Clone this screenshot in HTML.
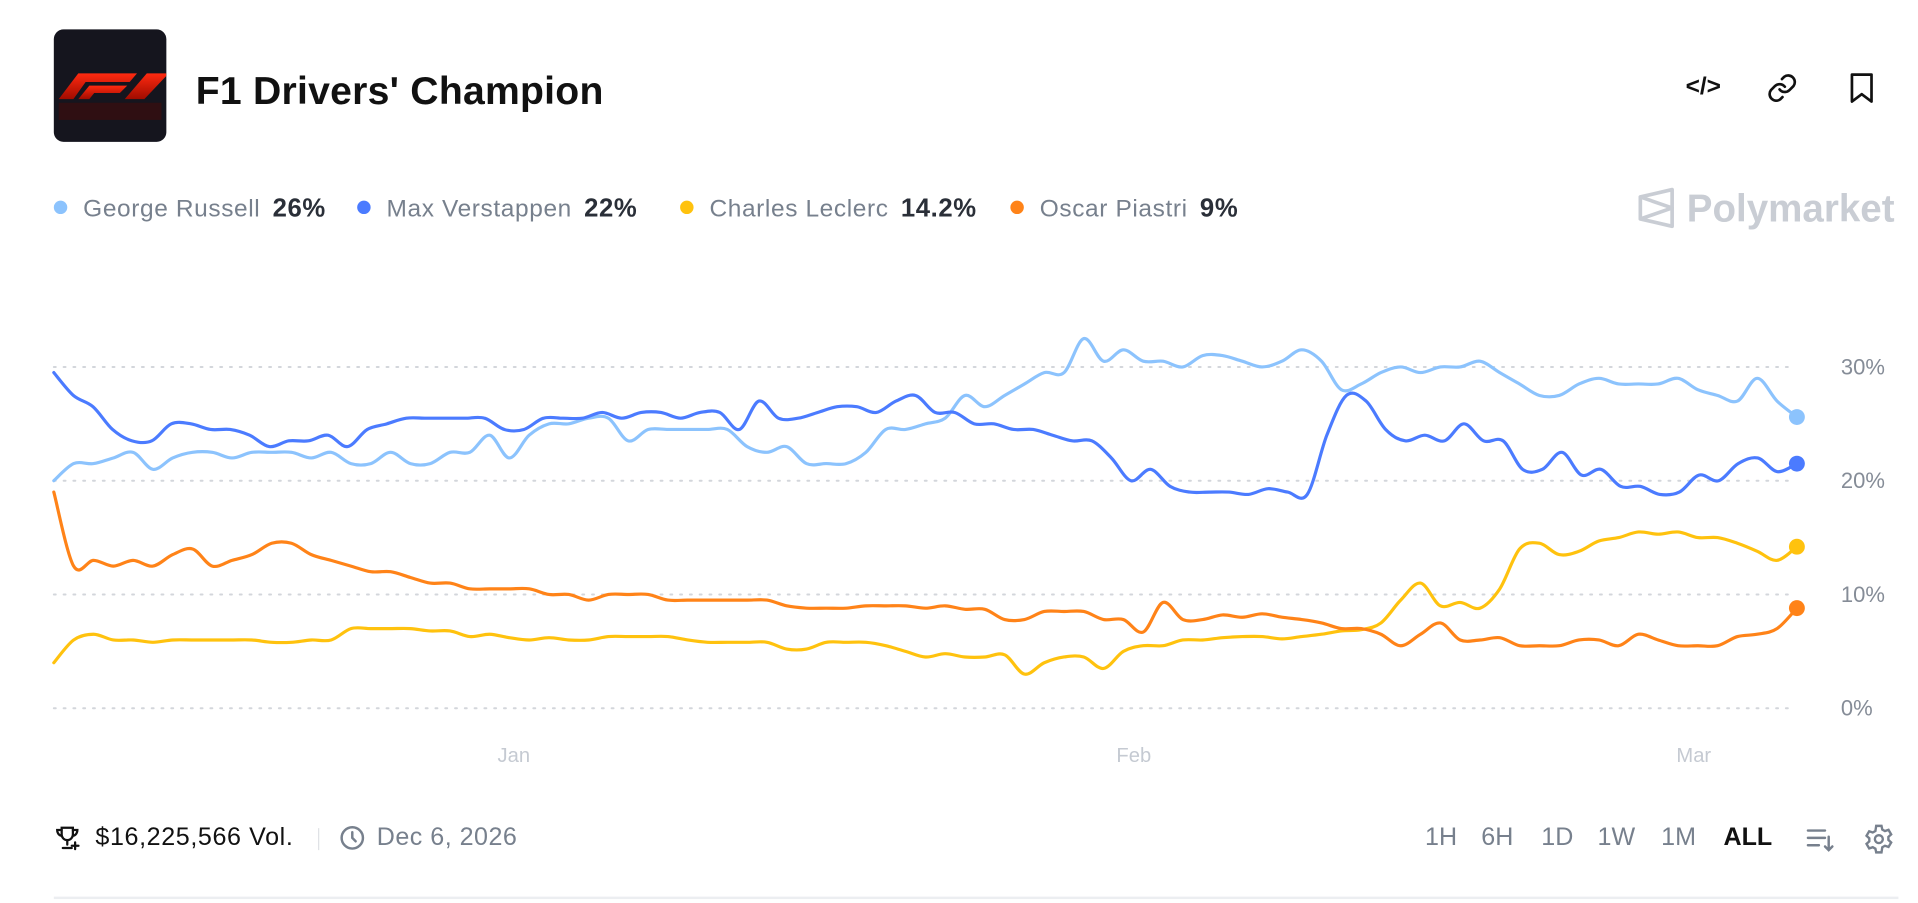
<!DOCTYPE html>
<html><head><meta charset="utf-8">
<style>
html,body{margin:0;padding:0;background:#fff;overflow:hidden;width:1918px;height:902px}
#wrap{position:absolute;left:0;top:0;width:1568px;height:738px;transform:scale(1.22321);transform-origin:0 0;font-family:"Liberation Sans",sans-serif}
.abs{position:absolute}
.leg{position:absolute;top:159px;font-size:20px;letter-spacing:0.5px;color:#77808d;white-space:nowrap}
.leg b{color:#2a2f38;margin-left:10px;font-size:21px}
.dot{display:inline-block;width:11px;height:11px;border-radius:50%;margin-right:13px;vertical-align:2px}
.rng{position:absolute;top:673px;font-size:20.5px;color:#77808d}
</style></head><body>
<div id="wrap">
  <div class="abs" style="left:44px;top:24px;width:92px;height:92px;border-radius:8px;background:#15151e;overflow:hidden">
    <svg width="92" height="92" viewBox="0 0 92 92"><defs><linearGradient id="gl" x1="0" y1="0" x2="0" y2="1"><stop offset="0" stop-color="#ff2a10"/><stop offset="1" stop-color="#a00c00"/></linearGradient></defs>
    <path d="M4 57 L20 36 L68 36 L62 43 L26 43 L16 57 Z" fill="url(#gl)"/>
    <path d="M20 57 L29 46 L60 46 L54 52 L33 52 L29 57 Z" fill="url(#gl)"/>
    <path d="M58 57 L76 36 L92 36 L92 38 L74 57 Z" fill="url(#gl)"/>
    <rect x="4" y="60" width="84" height="14" fill="#4a0a06" opacity="0.5"/></svg>
  </div>
  <div class="abs" style="left:160px;top:56px;font-size:32px;font-weight:bold;color:#111;letter-spacing:0.2px">F1 Drivers' Champion</div>
  <div class="abs" style="left:1378px;top:60px;font-size:20px;font-weight:bold;color:#111">&lt;/&gt;</div>
  <svg class="abs" style="left:1444px;top:59px" width="26" height="26" viewBox="0 0 24 24" fill="none" stroke="#111" stroke-width="2" stroke-linecap="round"><path d="M10 13a5 5 0 0 0 7.5.5l3-3a5 5 0 0 0-7-7l-1.7 1.7"/><path d="M14 11a5 5 0 0 0-7.5-.5l-3 3a5 5 0 0 0 7 7l1.7-1.7"/></svg>
  <svg class="abs" style="left:1511px;top:59px" width="22" height="26" viewBox="0 0 22 26" fill="none" stroke="#111" stroke-width="2.2" stroke-linejoin="round"><path d="M3 2h16v22l-8-6-8 6z"/></svg>

  <div class="leg" style="left:44px"><span class="dot" style="background:#8cc3fd"></span>George Russell<b>26%</b></div>
  <div class="leg" style="left:292px"><span class="dot" style="background:#4b7bff"></span>Max Verstappen<b>22%</b></div>
  <div class="leg" style="left:556px"><span class="dot" style="background:#ffc20e"></span>Charles Leclerc<b>14.2%</b></div>
  <div class="leg" style="left:826px"><span class="dot" style="background:#ff8318"></span>Oscar Piastri<b>9%</b></div>
  <div class="abs" style="left:1338px;top:152px;color:#c9cdd4;font-size:31.5px;font-weight:bold;white-space:nowrap">
    <svg width="32" height="34" viewBox="0 0 32 34" style="vertical-align:-6px;margin-right:9px" fill="none" stroke="#c9cdd4" stroke-width="3" stroke-linejoin="round"><path d="M3 8 L29 2 L29 32 L3 26 Z"/><path d="M3 8 L29 17 L3 26"/></svg>Polymarket</div>

  <svg class="abs" id="chart" style="left:0;top:0" width="1568" height="738"></svg>

  <svg class="abs" style="left:44px;top:674px" width="22" height="22" viewBox="0 0 24 24" fill="none" stroke="#111" stroke-width="2" stroke-linecap="round"><path d="M7 3h10v6a5 5 0 0 1-10 0z"/><path d="M7 5H3c0 3 2 5 4 5M17 5h4c0 3-2 5-4 5M12 14v4M8 21h8"/><path d="M19 16v6M16 19h6"/></svg>
  <div class="abs" style="left:78px;top:673px;font-size:20.5px;letter-spacing:0.5px;color:#111">$16,225,566 Vol.</div>
  <div class="abs" style="left:260px;top:677px;width:1px;height:18px;background:#dfe2e6"></div>
  <svg class="abs" style="left:277px;top:674px" width="22" height="22" viewBox="0 0 24 24" fill="none" stroke="#77808d" stroke-width="2.2" stroke-linecap="round"><circle cx="12" cy="12" r="9.5"/><path d="M12 7v5l3 3"/></svg>
  <div class="abs" style="left:308px;top:673px;font-size:20.5px;letter-spacing:0.4px;color:#77808d">Dec 6, 2026</div>

  <div class="rng" style="left:1165px">1H</div>
  <div class="rng" style="left:1211px">6H</div>
  <div class="rng" style="left:1260px">1D</div>
  <div class="rng" style="left:1306px">1W</div>
  <div class="rng" style="left:1358px">1M</div>
  <div class="rng" style="left:1409px;color:#111;font-weight:bold">ALL</div>
  <svg class="abs" style="left:1476px;top:674px" width="24" height="24" viewBox="0 0 24 24" fill="none" stroke="#77808d" stroke-width="2" stroke-linecap="round"><path d="M2 5h14M2 11h14M2 17h9M19 10v11M16 18l3 3 3-3"/></svg>
  <svg class="abs" style="left:1523px;top:673px" width="26" height="26" viewBox="0 0 24 24" fill="none" stroke="#77808d" stroke-width="1.8"><circle cx="12" cy="12" r="3"/><path d="M10 2h4l.6 2.8 2 1.1 2.7-.9 2 3.4-2.1 1.9v2.3l2.1 1.9-2 3.4-2.7-.9-2 1.1L14 22h-4l-.6-2.8-2-1.1-2.7.9-2-3.4 2.1-1.9v-2.3L2.7 9.5l2-3.4 2.7.9 2-1.1z"/></svg>
  <div class="abs" style="left:44px;top:733px;width:1508px;height:2px;background:#eceef1"></div>
</div>
<script>
const yTicks=[0,10,20,30];
const yTickLabels=["0%","10%","20%","30%"];
const xTicks=[23,54,82];
const xTickLabels=["Jan","Feb","Mar"];
const seriesNames=["George Russell","Max Verstappen","Charles Leclerc","Oscar Piastri"];
const russell=[20,21.5,21.5,22,22.5,21,22,22.5,22.5,22,22.5,22.5,22.5,22,22.5,21.5,21.5,22.5,21.5,21.5,22.5,22.5,24,22,24,25,25,25.5,25.5,23.5,24.5,24.5,24.5,24.5,24.5,23,22.5,23,21.5,21.5,21.5,22.5,24.5,24.5,25,25.5,27.5,26.5,27.5,28.5,29.5,29.5,32.5,30.5,31.5,30.5,30.5,30,31,31,30.5,30,30.5,31.5,30.5,28,28.5,29.5,30,29.5,30,30,30.5,29.5,28.5,27.5,27.5,28.5,29,28.5,28.5,28.5,29,28,27.5,27,29,27,25.6];
const verstappen=[29.5,27.5,26.5,24.5,23.5,23.5,25,25,24.5,24.5,24,23,23.5,23.5,24,23,24.5,25,25.5,25.5,25.5,25.5,25.5,24.5,24.5,25.5,25.5,25.5,26,25.5,26,26,25.5,26,26,24.5,27,25.5,25.5,26,26.5,26.5,26,27,27.5,26,26,25,25,24.5,24.5,24,23.5,23.5,22,20,21,19.5,19,19,19,18.8,19.3,19,18.8,24,27.5,27,24.5,23.5,24,23.5,25,23.5,23.5,21,21,22.5,20.5,21,19.5,19.5,18.8,19,20.5,20,21.5,22,20.8,21.5];
const leclerc=[4,6,6.5,6,6,5.8,6,6,6,6,6,5.8,5.8,6,6,7,7,7,7,6.8,6.8,6.3,6.5,6.2,6,6.2,6,6,6.3,6.3,6.3,6.3,6,5.8,5.8,5.8,5.8,5.2,5.2,5.8,5.8,5.8,5.5,5,4.5,4.8,4.5,4.5,4.7,3,4,4.5,4.5,3.5,5,5.5,5.5,6,6,6.2,6.3,6.3,6.1,6.3,6.5,6.8,6.9,7.5,9.5,11,9,9.3,8.8,10.5,14,14.5,13.5,13.8,14.7,15,15.5,15.3,15.5,15,15,14.5,13.8,13,14.2];
const piastri=[19,12.5,13,12.5,13,12.5,13.5,14,12.5,13,13.5,14.5,14.5,13.5,13,12.5,12,12,11.5,11,11,10.5,10.5,10.5,10.5,10,10,9.5,10,10,10,9.5,9.5,9.5,9.5,9.5,9.5,9,8.8,8.8,8.8,9,9,9,8.8,9,8.7,8.7,7.8,7.8,8.5,8.5,8.5,7.8,7.8,6.7,9.3,7.8,7.8,8.2,8,8.3,8,7.8,7.5,7,7,6.5,5.5,6.5,7.5,6,6,6.2,5.5,5.5,5.5,6,6,5.5,6.5,6,5.5,5.5,5.5,6.3,6.5,7,8.8];
const colors=["#8cc3fd","#4b7bff","#ffc20e","#ff8318"];
const NS="http://www.w3.org/2000/svg";
const svg=document.getElementById('chart');
const X0=44,X1=1469,DX=16.35,Y0=579,DY=9.3;
function xs(i,n){return X0+i*(X1-X0)/(n-1);}
function xd(d){return X0+d*DX;}
function ys(v){return Y0-v*DY;}
function mk(t,a){const e=document.createElementNS(NS,t);for(const k in a)e.setAttribute(k,a[k]);return e;}
function smooth(p){let d='M'+p[0][0].toFixed(1)+','+p[0][1].toFixed(1);
  for(let i=0;i<p.length-1;i++){const p0=p[i-1]||p[i],p1=p[i],p2=p[i+1],p3=p[i+2]||p2;
    const c1x=p1[0]+(p2[0]-p0[0])/6,c1y=p1[1]+(p2[1]-p0[1])/6,c2x=p2[0]-(p3[0]-p1[0])/6,c2y=p2[1]-(p3[1]-p1[1])/6;
    d+=' C'+c1x.toFixed(1)+','+c1y.toFixed(1)+' '+c2x.toFixed(1)+','+c2y.toFixed(1)+' '+p2[0].toFixed(1)+','+p2[1].toFixed(1);}
  return d;}
yTicks.forEach((t,i)=>{
  const l=mk('line',{x1:44,x2:1462,y1:ys(t),y2:ys(t),stroke:'#d3d6db','stroke-width':1.6,'stroke-dasharray':'1.6 6.4','stroke-linecap':'round'});
  
  
  svg.appendChild(l);
  const tx=mk('text',{x:1505,y:ys(t)+6,'font-size':18,fill:'#858c97','font-family':'Liberation Sans, sans-serif'});
  tx.textContent=yTickLabels[i];
  
  
  svg.appendChild(tx);
});
xTicks.forEach((d,i)=>{
  const tx=mk('text',{x:xd(d),y:623,'font-size':16.5,fill:'#c5cad2','text-anchor':'middle','font-family':'Liberation Sans, sans-serif'});
  tx.textContent=xTickLabels[i];
  
  
  svg.appendChild(tx);
});
[russell,verstappen,leclerc,piastri].forEach((s,k)=>{
  const pts=s.map((v,i)=>[xs(i,s.length),ys(v)]);
  const p=mk('path',{d:smooth(pts),fill:'none',stroke:colors[k],'stroke-width':2.6,'stroke-linejoin':'round','stroke-linecap':'round'});
  
  
  svg.appendChild(p);
  const n=s.length;
  const c=mk('circle',{cx:xs(n-1,n),cy:ys(s[n-1]),r:6.5,fill:colors[k]});
  
  
  svg.appendChild(c);
});
</script>
</body></html>
